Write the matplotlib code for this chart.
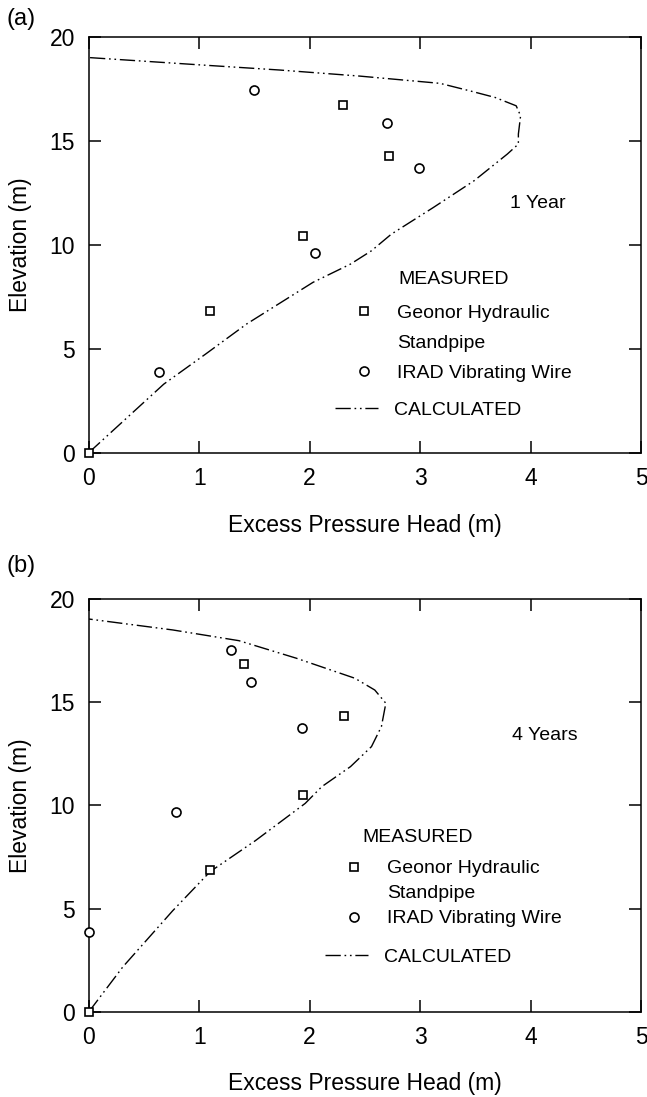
import matplotlib
matplotlib.use('Agg')
import matplotlib.pyplot as plt
from matplotlib.lines import Line2D

plt.rcParams.update({
    "font.family": ["Liberation Sans", "DejaVu Sans"],
    "axes.linewidth": 1.1,
})

# ---- panel (a): 1 year ----
geonor_a_x = [0.0, 1.10, 1.94, 2.72, 2.30]
geonor_a_y = [0.0, 6.81, 10.43, 14.25, 16.70]
irad_a_x = [0.635, 2.05, 2.99, 2.70, 1.50]
irad_a_y = [3.86, 9.60, 13.67, 15.85, 17.45]
calc_a_x = [0, 0.68, 1.06, 1.43, 2.03, 2.37, 2.56, 2.74, 3.12, 3.49, 3.79, 3.89, 3.89,
            3.91, 3.87, 3.68, 3.45, 3.18, 2.45, 1.73, 1.00, 0]
calc_a_y = [0, 3.30, 4.75, 6.19, 8.19, 9.07, 9.71, 10.51, 11.79, 13.08, 14.36, 14.84, 15.32,
            16.20, 16.68, 17.08, 17.40, 17.76, 18.11, 18.40, 18.65, 19.0]

# ---- panel (b): 4 years ----
geonor_b_x = [0.0, 1.10, 1.94, 2.31, 1.41]
geonor_b_y = [0.0, 6.88, 10.51, 14.35, 16.84]
irad_b_x = [0.0, 0.79, 1.93, 1.47, 1.29]
irad_b_y = [3.89, 9.67, 13.77, 15.98, 17.53]
calc_b_x = [0, 0.31, 0.76, 1.10, 1.51, 1.96, 2.11, 2.37, 2.56, 2.65, 2.69, 2.59, 2.41,
            1.88, 1.36, 0.76, 0]
calc_b_y = [0, 2.19, 4.90, 6.80, 8.30, 10.10, 10.91, 11.88, 12.85, 13.82, 14.95, 15.59, 16.16,
            17.13, 17.98, 18.50, 19.03]

DASH = (0, (11, 2.7, 1.2, 2.7, 1.2, 2.7))
FS = 14

fig = plt.figure(figsize=(6.47, 10.97), dpi=100)
ax_a = fig.add_axes([0.1371, 0.5873, 0.8536, 0.3792])
ax_b = fig.add_axes([0.1371, 0.0775, 0.8536, 0.3765])

# layout per panel: period label, MEASURED pos, marker legend anchor + spacing,
# line legend anchor, panel tag y
panels = [
    (ax_a, geonor_a_x, geonor_a_y, irad_a_x, irad_a_y, calc_a_x, calc_a_y,
     '1 Year', (4.07, 12.0), (2.80, 8.35), (2.385, 7.15), 0.65, (2.23, 2.05),
     '(a)', 1 - 19 / 1097),
    (ax_b, geonor_b_x, geonor_b_y, irad_b_x, irad_b_y, calc_b_x, calc_b_y,
     '4 Years', (4.13, 13.38), (2.48, 8.44), (2.295, 7.37), 0.38, (2.14, 2.65),
     '(b)', 1 - 566 / 1097),
]

for (ax, gx, gy, ix, iy, cx, cy, period, ppos, mpos, mleg, mspace, lleg,
     tag, tagy) in panels:
    ln, = ax.plot(cx, cy, color='black', lw=1.0, linestyle=DASH)
    sq, = ax.plot(gx, gy, 's', ms=6, mfc='white', mec='black', mew=1.2,
                  linestyle='none', clip_on=False, zorder=4)
    ci, = ax.plot(ix, iy, 'o', ms=6.5, mfc='white', mec='black', mew=1.2,
                  linestyle='none', clip_on=False, zorder=4)
    ax.set_xlim(0, 5)
    ax.set_ylim(0, 20)
    ax.set_xticks([0, 1, 2, 3, 4, 5])
    ax.set_yticks([0, 5, 10, 15, 20])
    ax.tick_params(direction='in', top=True, right=True, length=8.5, width=1.1,
                   labelsize=16.5, pad=10)
    ax.set_xlabel('Excess Pressure Head (m)', fontsize=16.5, va='baseline')
    ax.xaxis.set_label_coords(0.5, -0.19)
    ax.set_ylabel('Elevation (m)', fontsize=16.5)
    ax.yaxis.set_label_coords(-0.103, 0.5)

    ax.text(*ppos, period, fontsize=FS, ha='center', va='center')
    ax.text(*mpos, 'MEASURED', fontsize=FS, ha='left', va='center')

    blank = Line2D([], [], linestyle='none')
    leg1 = ax.legend([sq, blank, ci], ['Geonor Hydraulic', 'Standpipe', 'IRAD Vibrating Wire'],
                     loc='upper left', bbox_to_anchor=mleg, bbox_transform=ax.transData,
                     frameon=False, borderpad=0, borderaxespad=0, handlelength=1.2,
                     handletextpad=1.1, labelspacing=mspace, fontsize=FS)
    ax.add_artist(leg1)
    ax.legend([ln], ['CALCULATED'], loc='center left', bbox_to_anchor=lleg,
              bbox_transform=ax.transData, frameon=False, borderpad=0,
              borderaxespad=0, handlelength=2.2, handletextpad=0.85, fontsize=FS)
    fig.text(21 / 647, tagy, tag, fontsize=17, ha='center', va='center')

fig.savefig('out.png', dpi=100)
